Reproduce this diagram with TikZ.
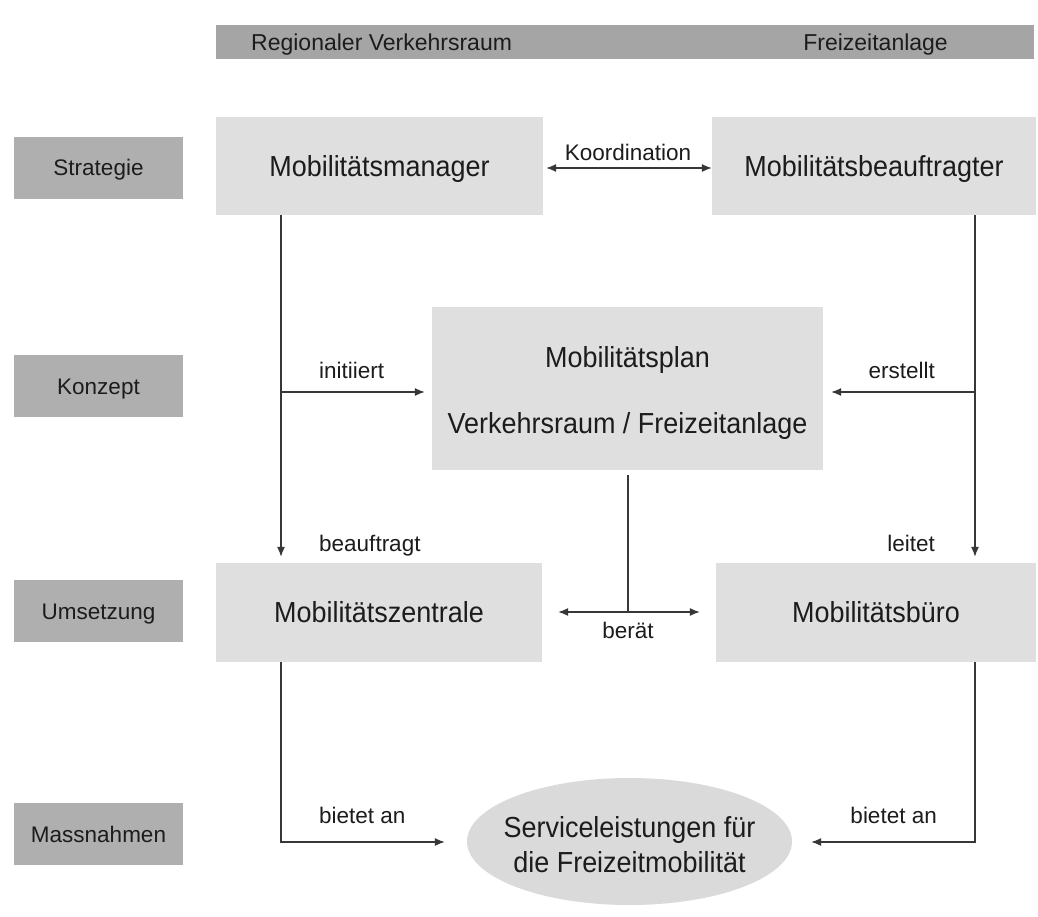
\documentclass[tikz,border=0pt]{standalone}
\usepackage{fontspec}
\setmainfont{Liberation Sans}
\newfontfamily\narrowsans{Liberation Sans}[FakeStretch=0.93]
\usetikzlibrary{arrows.meta,calc,shapes.geometric}
\definecolor{bargray}{RGB}{165,165,165}
\definecolor{lblgray}{RGB}{175,175,175}
\definecolor{boxgray}{RGB}{223,223,223}
\definecolor{ellgray}{RGB}{218,218,218}
\definecolor{ink}{RGB}{28,28,28}
\definecolor{linec}{RGB}{55,55,55}
\begin{document}
\begin{tikzpicture}[x=1pt,y=-1pt,
  lvl/.style={fill=lblgray, minimum width=169pt, minimum height=62pt, inner sep=0pt,
    font=\fontsize{22.5}{26}\selectfont, text=ink, text height=20pt, text depth=4pt},
  mainbox/.style={fill=boxgray, inner sep=0pt, font=\narrowsans\fontsize{29}{34}\selectfont, text=ink,
    text height=24pt, text depth=4pt},
  bigtext/.style={inner sep=0pt, font=\narrowsans\fontsize{29}{34}\selectfont, text=ink,
    text height=24pt, text depth=4pt},
  lab/.style={inner sep=0pt, font=\fontsize{22.5}{26}\selectfont, text=ink,
    text height=20pt, text depth=4pt},
  conn/.style={draw=linec, line width=1.2pt},
  arr/.style={conn, -{Latex[length=10pt,width=8pt]}},
  darr/.style={conn, {Latex[length=10pt,width=8pt]}-{Latex[length=10pt,width=8pt]}}]
\useasboundingbox[fill=white] (0,0) rectangle (1038,916);

% header bar
\node[fill=bargray, minimum width=818pt, minimum height=34pt, inner sep=0pt] (bar) at (625,42) {};
\node[lab, anchor=west, font=\fontsize{23}{26}\selectfont] (reg) at (251,42) {Regionaler Verkehrsraum};
\node[lab, anchor=east, font=\fontsize{23}{26}\selectfont] (frz) at (948,42) {Freizeitanlage};

% level labels
\node[lvl] (strat) at (98.5,167.5) {Strategie};
\node[lvl] (konz) at (98.5,386) {Konzept};
\node[lvl] (ums) at (98.5,611) {Umsetzung};
\node[lvl] (mass) at (98.5,834) {Massnahmen};

% main boxes
\node[mainbox, minimum width=327pt, minimum height=98pt] (mm) at (379.5,166) {Mobilitätsmanager};
\node[mainbox, minimum width=324pt, minimum height=98pt] (mb) at (874,166) {Mobilitätsbeauftragter};
\node[fill=boxgray, inner sep=0pt, minimum width=391pt, minimum height=163pt] (mp) at (627.5,388.5) {};
\node[bigtext] (mp1) at (627.5,357) {Mobilitätsplan};
\node[bigtext] (mp2) at (627.5,423) {Verkehrsraum / Freizeitanlage};
\node[mainbox, minimum width=326pt, minimum height=99pt] (mz) at (379,612.5) {Mobilitätszentrale};
\node[mainbox, minimum width=320pt, minimum height=99pt] (mbu) at (876,612.5) {Mobilitätsbüro};
\node[ellipse, fill=ellgray, inner sep=0pt, minimum width=325pt, minimum height=127pt] (svc) at (629.5,841.5) {};
\node[bigtext] (svc1) at (629.5,827) {Serviceleistungen für};
\node[bigtext] (svc2) at (629.5,862) {die Freizeitmobilität};

% helper coordinates
\coordinate (lx) at (281,0);
\coordinate (rx) at (975,0);
\coordinate (bl) at (281,392);
\coordinate (br) at (975,392);
\coordinate (bj) at (628,612);
\coordinate (cl) at (281,842);
\coordinate (cr) at (975,842);

% connectors
\draw[darr, shorten <=3pt] (mm.east |- 0,168) -- (mb.west |- 0,168);
\node[lab] (koord) at (628,152) {Koordination};

\draw[arr, shorten >=6pt] (mm.south -| lx) -- (mz.north -| lx);
\draw[arr, shorten >=6pt] (mb.south -| rx) -- (mbu.north -| rx);
\draw[arr, shorten >=7pt] (bl) -- (mp.west |- bl);
\draw[arr, shorten >=8pt] (br) -- (mp.east |- br);
\node[lab, anchor=west] (ini) at (319,370) {initiiert};
\node[lab, anchor=east] (ers) at (935,370) {erstellt};
\node[lab, anchor=west] (bea) at (319,543) {beauftragt};
\node[lab, anchor=east] (lei) at (935,543) {leitet};

\draw[conn, shorten <=5pt] (mp.south -| bj) -- (bj);
\draw[darr, shorten <=16pt, shorten >=16pt] (mz.east |- bj) -- (mbu.west |- bj);
\node[lab] (ber) at (628,630) {berät};

\draw[arr, shorten >=22pt] (mz.south -| cl) -- (cl) -- (svc.west |- cl);
\draw[arr, shorten >=19pt] (mbu.south -| cr) -- (cr) -- (svc.east |- cr);
\node[lab, anchor=west] (bal) at (319,815) {bietet an};
\node[lab, anchor=east] (bar2) at (937,815) {bietet an};
\end{tikzpicture}
\end{document}
